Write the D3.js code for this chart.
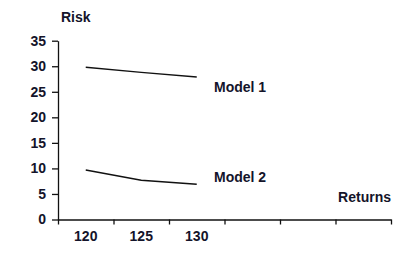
<!DOCTYPE html>
<html>
<head>
<meta charset="utf-8">
<script src="https://cdn.jsdelivr.net/npm/d3@7"></script>
<style>
  body { margin: 0; background: #fff; }
  svg text { font-family: "Liberation Sans", Arial, sans-serif; font-weight: bold; fill: #14142a; }
</style>
</head>
<body>
<svg id="chart" width="412" height="258"></svg>
<script>
// Data
var xLabels = ['120', '125', '130', '', '', ''];
var yTicks = [0, 5, 10, 15, 20, 25, 30, 35];
var model1 = [29.8, 28.8, 27.9];
var model2 = [9.7, 7.7, 6.9];
var seriesNames = ['Model 1', 'Model 2'];

var svg = d3.select('#chart');

var plotLeft = 58, plotRight = 391, plotTop = 40.7, plotBottom = 219.5;
var labelOffsets = [15, -2];

var x = d3.scaleLinear().domain([0, xLabels.length]).range([plotLeft, plotRight]);
var y = d3.scaleLinear().domain([0, 35]).range([plotBottom, plotTop]);

// y axis
var yAxis = svg.append('g')
    .attr('transform', 'translate(' + plotLeft + ',0)')
    .call(d3.axisLeft(y).tickValues(yTicks).tickSize(6).tickSizeOuter(0).tickPadding(6));

// x axis: ticks on category boundaries
var xAxis = svg.append('g')
    .attr('transform', 'translate(0,' + plotBottom + ')')
    .call(d3.axisBottom(x).tickValues(d3.range(xLabels.length + 1)).tickSize(5).tickSizeOuter(0).tickFormat(''));

svg.selectAll('.domain, .tick line')
    .attr('stroke', '#111')
    .attr('stroke-width', 1.3);
yAxis.selectAll('text').style('font-size', '14px').attr('fill', '#14142a');

// x category labels centred in each slot
svg.append('g').selectAll('text')
    .data(xLabels)
    .enter().append('text')
    .attr('x', function(d, i) { return x(i + 0.5); })
    .attr('y', plotBottom + 21)
    .attr('text-anchor', 'middle')
    .style('font-size', '14px')
    .text(function(d) { return d; });

var line = d3.line()
    .x(function(d, i) { return x(i + 0.5); })
    .y(function(d) { return y(d); });

[model1, model2].forEach(function(s, k) {
  svg.append('path')
      .datum(s)
      .attr('d', line)
      .attr('fill', 'none')
      .attr('stroke', '#111')
      .attr('stroke-width', 1.5);

  svg.append('text')
      .attr('x', 214)
      .attr('y', y(s[s.length - 1]) + labelOffsets[k])
      .style('font-size', '14px')
      .text(seriesNames[k]);
});

// axis titles
svg.append('text')
    .attr('x', 61)
    .attr('y', 22)
    .style('font-size', '14px')
    .text('Risk');

svg.append('text')
    .attr('x', plotRight)
    .attr('y', 202)
    .attr('text-anchor', 'end')
    .style('font-size', '14px')
    .text('Returns');
</script>
</body>
</html>
